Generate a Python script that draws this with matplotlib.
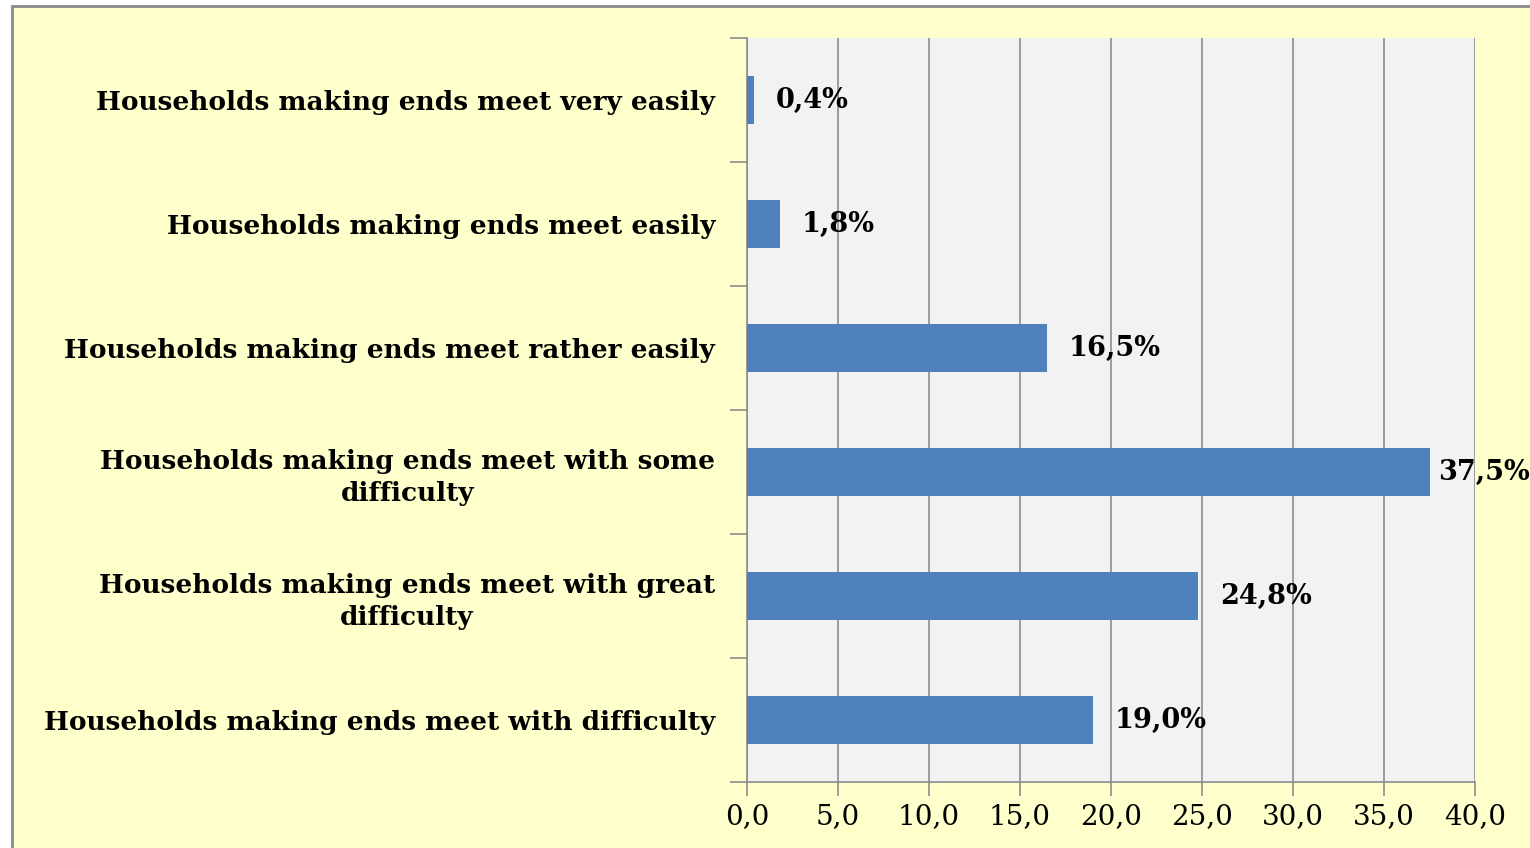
import matplotlib
matplotlib.use("Agg")
import matplotlib.pyplot as plt
from matplotlib.patches import Rectangle
import numpy as np

categories = [
    "Households making ends meet very easily",
    "Households making ends meet easily",
    "Households making ends meet rather easily",
    "Households making ends meet with some\ndifficulty",
    "Households making ends meet with great\ndifficulty",
    "Households making ends meet with difficulty",
]
values = [0.4, 1.8, 16.5, 37.5, 24.8, 19.0]
xticks = [0, 5, 10, 15, 20, 25, 30, 35, 40]

BG = "#FFFFCC"
PLOT_BG = "#F2F2F2"
BAR = "#4F81BD"
GRID = "#8C8C8C"
FONT = "DejaVu Serif"

fig = plt.figure(figsize=(15.3, 8.48), dpi=100)
fig.patch.set_facecolor("white")
# chart area with border
fig.patches.append(Rectangle((12/1530, -0.1), 1.2, 1 - 6/848 + 0.1, transform=fig.transFigure,
                             facecolor=BG, edgecolor="#8A8A8A", linewidth=2.0, zorder=-10))

ax = fig.add_axes([747/1530, 1 - 782/848, (1475-747)/1530, (782-38)/848])
ax.set_facecolor(PLOT_BG)

n = len(categories)
y = np.arange(n)
ax.barh(y, values, height=0.39, color=BAR, zorder=3)
ax.set_ylim(n - 0.5, -0.5)
ax.set_xlim(0, 40)

ax.set_xticks(xticks)
ax.set_xticklabels([f"{v:.1f}".replace(".", ",") for v in xticks],
                   fontfamily=FONT, fontsize=20)
ax.xaxis.grid(True, color=GRID, linewidth=1.2, zorder=1)
ax.set_axisbelow(True)

ax.set_yticks(y)
ax.set_yticklabels(categories, fontfamily=FONT, fontweight="bold",
                   fontsize=19, multialignment="center", linespacing=1.35)
ax.tick_params(axis="y", which="major", length=0, pad=23)
ax.set_yticks(np.arange(n + 1) - 0.5, minor=True)
ax.tick_params(axis="y", which="minor", length=12, color=GRID, width=1.2)
ax.tick_params(axis="x", length=10, color=GRID, width=1.2, pad=5)

for s in ["top", "right"]:
    ax.spines[s].set_visible(False)
for s in ["left", "bottom"]:
    ax.spines[s].set_color(GRID)
    ax.spines[s].set_linewidth(1.2)

for yi, v in zip(y, values):
    off = 0.45 if v > 36 else 1.2  # label squeezed next to the longest bar, as in the source
    ax.text(v + off, yi, f"{v:.1f}%".replace(".", ","), va="center", ha="left",
            fontfamily=FONT, fontweight="bold", fontsize=19.5, zorder=4,
            clip_on=False)

fig.savefig("out.png", dpi=100, facecolor=fig.get_facecolor())
